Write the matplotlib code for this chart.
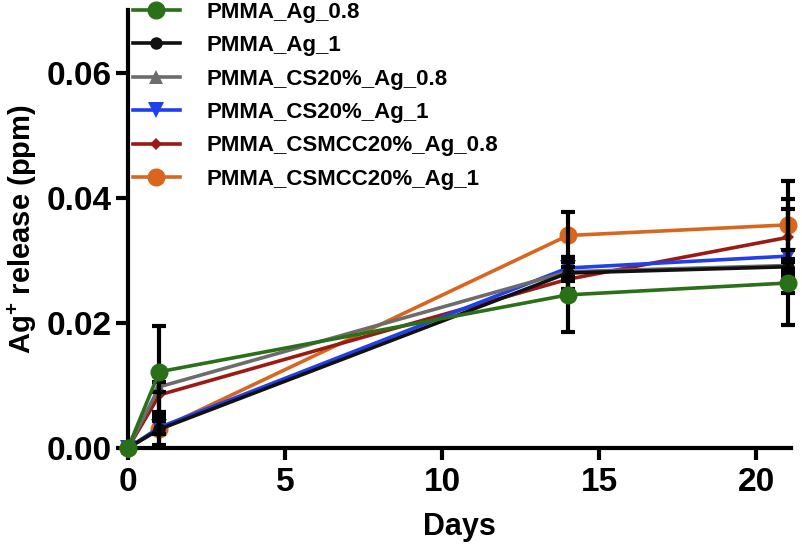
import matplotlib
matplotlib.use("Agg")
import matplotlib.pyplot as plt

plt.rcParams['font.family'] = ['Liberation Sans', 'DejaVu Sans']
plt.rcParams['font.weight'] = 'bold'
plt.rcParams['mathtext.fontset'] = 'custom'
plt.rcParams['mathtext.rm'] = 'Liberation Sans:bold'
plt.rcParams['mathtext.bf'] = 'Liberation Sans:bold'

days = [0, 1, 14, 21]
labels = ["PMMA_Ag_0.8", "PMMA_Ag_1", "PMMA_CS20%_Ag_0.8", "PMMA_CS20%_Ag_1",
          "PMMA_CSMCC20%_Ag_0.8", "PMMA_CSMCC20%_Ag_1"]
pmma_ag_08 = [0.0, 0.0122, 0.0245, 0.0264]
pmma_ag_1 = [0.0, 0.0030, 0.0280, 0.0290]
cs_ag_08 = [0.0, 0.0098, 0.0282, 0.0292]
cs_ag_1 = [0.0, 0.0033, 0.0288, 0.0307]
csmcc_ag_08 = [0.0, 0.0085, 0.0270, 0.0337]
csmcc_ag_1 = [0.0, 0.0030, 0.0340, 0.0357]
err_ag_08 = [0.0, 0.0073, 0.0060, 0.0016]
err_ag_1 = [0.0, 0.0028, 0.0025, 0.0093]
err_cs_08 = [0.0, 0.0008, 0.0015, 0.0010]
err_cs_1 = [0.0, 0.0010, 0.0015, 0.0010]
err_csmcc_08 = [0.0, 0.0030, 0.0020, 0.0062]
err_csmcc_1 = [0.0, 0.0025, 0.0038, 0.0070]

series = [pmma_ag_08, pmma_ag_1, cs_ag_08, cs_ag_1, csmcc_ag_08, csmcc_ag_1]
errors = [err_ag_08, err_ag_1, err_cs_08, err_cs_1, err_csmcc_08, err_csmcc_1]
colors = ["#2a7018", "#111111", "#6c6c6c", "#1f3ff0", "#9b1a14", "#d8661e"]
markers = ["o", "o", "^", "v", "D", "o"]
msizes = [13, 9, 10, 12, 6.5, 13]
zords = [10, 6, 5, 4, 3, 2]

fig = plt.figure(figsize=(8.02, 5.55), dpi=100)
ax = fig.add_axes([128/802, 1 - 448/555, (791-128)/802, 437.5/555])

handles = []
for s, e, c, m, ms, z, lab in zip(series, errors, colors, markers, msizes, zords, labels):
    h, = ax.plot(days, s, color=c, marker=m, markersize=ms, lw=2.6, label=lab,
                 zorder=z, clip_on=False, markeredgewidth=0)
    ax.errorbar(days, s, yerr=e, fmt='none', ecolor='black', elinewidth=3.0,
                capsize=5, capthick=3.0, zorder=7, clip_on=False)
    handles.append(h)

ax.set_xlim(0, 21.1)
ax.set_ylim(0, 0.07)
ax.set_xticks([0, 5, 10, 15, 20])
ax.set_yticks([0.0, 0.02, 0.04, 0.06])
ax.set_yticklabels(["0.00", "0.02", "0.04", "0.06"])
for sp in ['top', 'right']:
    ax.spines[sp].set_visible(False)
for sp in ['left', 'bottom']:
    ax.spines[sp].set_linewidth(3.0)
ax.tick_params(axis='both', width=3.0, length=8.5, labelsize=24, pad=3)
ax.tick_params(axis='x', pad=5)
for t in ax.get_xticklabels() + ax.get_yticklabels():
    t.set_fontweight('bold')

ax.set_xlabel("Days", fontsize=22, fontweight='bold', labelpad=10)
ax.set_ylabel(r"Ag$^{+}$ release (ppm)", fontsize=21, fontweight='bold', labelpad=6)

leg = fig.legend(handles=handles, loc='upper left', bbox_to_anchor=(133/802, 0.997),
                 frameon=False, fontsize=16, handlelength=2.1, handletextpad=1.2,
                 labelspacing=0.56, borderpad=0, borderaxespad=0)
for t in leg.get_texts():
    t.set_fontweight('bold')

fig.savefig("out.png", dpi=100)
